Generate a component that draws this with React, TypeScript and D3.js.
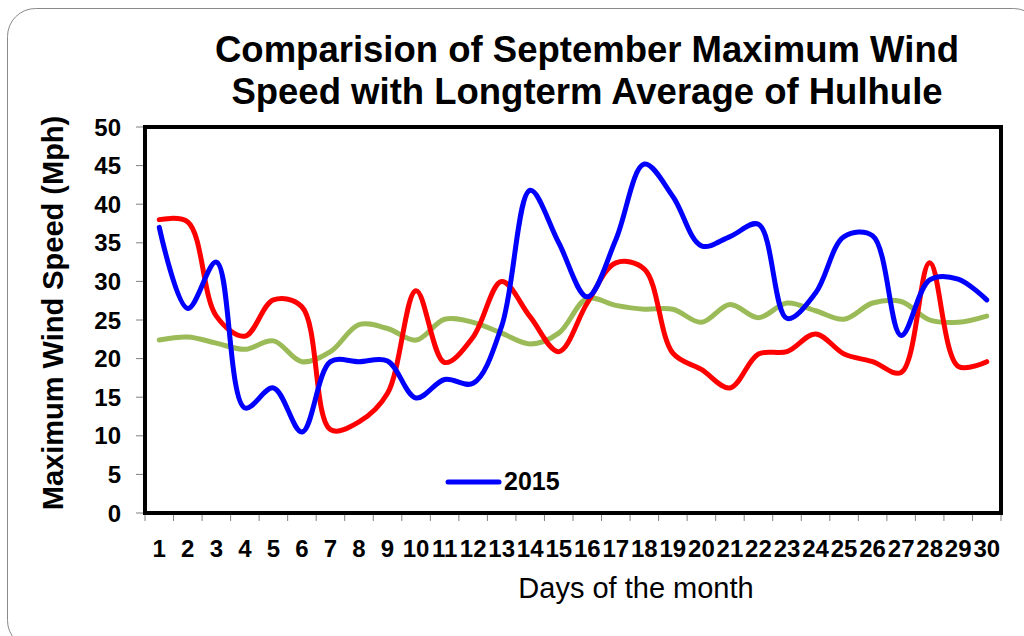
import React from "react";
import * as d3 from "d3";

const days: string[] = Array.from({ length: 30 }, (_, i) => String(i + 1));
const yTicks: number[] = [0, 5, 10, 15, 20, 25, 30, 35, 40, 45, 50];

const wind2015: number[] = [37.0, 26.5, 32.5, 13.6, 16.2, 10.5, 19.6, 19.6, 19.7, 14.9, 17.3, 16.8, 24.2, 41.8, 35.0, 28.0, 35.4, 45.2, 41.0, 34.6, 35.8, 37.4, 25.2, 28.5, 35.8, 35.9, 23.0, 30.2, 30.3, 27.6];
const windOther: number[] = [38.0, 37.7, 25.5, 22.9, 27.6, 26.7, 10.8, 11.8, 15.5, 28.8, 19.5, 22.8, 30.0, 25.4, 20.9, 27.2, 32.4, 31.6, 20.7, 18.6, 16.2, 20.6, 20.9, 23.2, 20.6, 19.6, 18.2, 32.4, 19.0, 19.6];
const longtermAverage: number[] = [22.4, 22.8, 22.0, 21.2, 22.3, 19.6, 20.9, 24.4, 23.9, 22.4, 25.1, 24.7, 23.3, 21.9, 23.3, 27.8, 26.9, 26.4, 26.4, 24.7, 27.0, 25.3, 27.2, 26.2, 25.1, 27.2, 27.4, 25.0, 24.7, 25.5];

const FONT = "'Liberation Sans', Arial, sans-serif";

export default function App() {
  const left = 145, right = 1001, top = 127, bottom = 513;
  const x = d3.scaleBand<string>().domain(days).range([left, right]).padding(0);
  const y = d3.scaleLinear().domain([0, 50]).range([bottom, top]);
  const cx = (i: number) => (x(days[i]) as number) + x.bandwidth() / 2;
  const line = d3
    .line<number>()
    .x((_, i) => cx(i))
    .y((d) => y(d))
    .curve(d3.curveCatmullRom.alpha(0.5));

  const series = [
    { data: longtermAverage, color: "#9BBB59" },
    { data: windOther, color: "#FF0000" },
    { data: wind2015, color: "#0000FF" },
  ];

  const boundaries = d3.range(days.length + 1).map((i) => left + i * x.step());

  return (
    <svg width={1024} height={636} style={{ position: "absolute", left: 0, top: 0, background: "#fff" }} fontFamily={FONT}>
      <rect x={0} y={0} width={1024} height={636} fill="#fff" />
      <rect x={7.5} y={8.5} width={1034} height={640} rx={28} ry={28} fill="none" stroke="#8a8a8a" strokeWidth={1} />

      <text x={587} y={62} textAnchor="middle" fontSize={36.5} fontWeight="bold">Comparision of September Maximum Wind</text>
      <text x={587} y={104} textAnchor="middle" fontSize={36.5} fontWeight="bold">Speed with Longterm Average of Hulhule</text>

      {yTicks.map((t) => (
        <g key={"y" + t}>
          <line x1={136} x2={left} y1={y(t)} y2={y(t)} stroke="#808080" strokeWidth={1} />
          <text x={121} y={y(t)} dy="0.36em" textAnchor="end" fontSize={24} fontWeight="bold">{t}</text>
        </g>
      ))}
      {boundaries.map((b, i) => (
        <line key={"xt" + i} x1={b} x2={b} y1={bottom} y2={bottom + 8} stroke="#808080" strokeWidth={1} />
      ))}
      {days.map((d, i) => (
        <text key={"xl" + d} x={cx(i)} y={557} textAnchor="middle" fontSize={24} fontWeight="bold">{d}</text>
      ))}

      {series.map((s, k) => (
        <path key={"s" + k} d={line(s.data) || ""} fill="none" stroke={s.color} strokeWidth={5} strokeLinejoin="round" strokeLinecap="round" />
      ))}

      <rect x={left} y={top} width={right - left} height={bottom - top} fill="none" stroke="#000" strokeWidth={4} />

      <line x1={448} x2={499} y1={482} y2={482} stroke="#0000FF" strokeWidth={5} strokeLinecap="round" />
      <text x={504} y={490} fontSize={25} fontWeight="bold">2015</text>

      <text transform="translate(63,313) rotate(-90)" textAnchor="middle" fontSize={29} fontWeight="bold">Maximum Wind Speed (Mph)</text>
      <text x={636} y={598} textAnchor="middle" fontSize={29}>Days of the month</text>
    </svg>
  );
}
